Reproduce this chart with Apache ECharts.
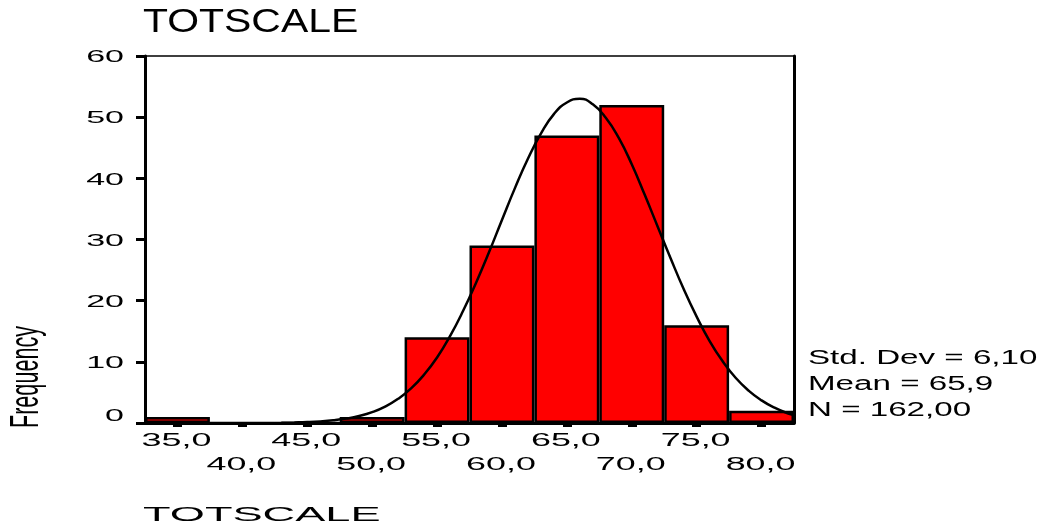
<!DOCTYPE html>
<html><head><meta charset="utf-8">
<script src="https://cdn.jsdelivr.net/npm/echarts@6/dist/echarts.min.js"></script>
<style>html,body{margin:0;padding:0;background:#fff}#c{width:1053px;height:523px}</style>
</head><body><div id="c"></div>
<script>
// ---- data ----
const chartTitle = 'TOTSCALE';
const xTitle = 'TOTSCALE';
const yTitle = 'Frequency';
const binLabels = ['35,0','40,0','45,0','50,0','55,0','60,0','65,0','70,0','75,0','80,0'];
const frequencies = [1, 0, 0, 1, 14, 29, 47, 52, 16, 2];
const yTicks = [0, 10, 20, 30, 40, 50, 60];
const xRange = [32.5, 82.5];
const curveX = [43,44,45,46,47,48,49,50,51,52,53,54,55,56,57,58,59,60,61,62,63,64,65,66,67,68,69,70,71,72,73,74,75,76,77,78,79,80,81,82,82.5];
const curveY = [0.05,0.09,0.15,0.26,0.44,0.72,1.14,1.77,2.68,3.95,5.66,7.9,10.7,14.2,18.3,22.9,27.9,33.2,38.4,43.2,47.3,50.5,52.4,53.0,52.1,49.9,46.6,42.3,37.3,32.1,26.9,21.9,17.4,13.4,10.1,7.4,5.3,3.7,2.5,1.6,1.3];
const statsLines = ['Std. Dev = 6,10', 'Mean = 65,9', 'N = 162,00'];

// ---- chart ----
const FONT = '"Liberation Sans", Arial, sans-serif';
const GRID = {left: 145, top: 56, width: 649, height: 367};
const chart = echarts.init(document.getElementById('c'), null, {renderer: 'canvas'});
const option = {
  animation: false,
  backgroundColor: '#fff',
  grid: Object.assign({show: true, borderColor: '#000', borderWidth: 1.5, backgroundColor: 'transparent'}, GRID),
  xAxis: [
    {
      type: 'category', data: binLabels, boundaryGap: true,
      axisLine: {show: true, lineStyle: {color: '#000', width: 3}},
      axisTick: {show: true, alignWithLabel: true, length: 4, lineStyle: {color: '#000', width: 9}},
      axisLabel: {show: false}, splitLine: {show: false}
    },
    {type: 'value', min: xRange[0], max: xRange[1], show: false}
  ],
  yAxis: [
    {
      type: 'value', min: 0, max: 60, interval: 10,
      axisLine: {show: true, lineStyle: {color: '#000', width: 3}},
      axisTick: {show: true, length: 9, lineStyle: {color: '#000', width: 3}},
      axisLabel: {show: false}, splitLine: {show: false}
    },
    {
      type: 'value', min: 0, max: 60, position: 'right',
      axisLine: {show: true, onZero: false, lineStyle: {color: '#000', width: 3}},
      axisTick: {show: false}, axisLabel: {show: false}, splitLine: {show: false}
    }
  ],
  series: [
    {
      type: 'bar', xAxisIndex: 0, yAxisIndex: 0, data: frequencies,
      barCategoryGap: '0%', z: 2,
      itemStyle: {color: '#ff0000', borderColor: '#000', borderWidth: 2.5}
    },
    {
      type: 'line', xAxisIndex: 1, yAxisIndex: 0, z: 3,
      data: curveX.map((x, i) => [x, curveY[i]]),
      smooth: true, showSymbol: false, symbol: 'none',
      lineStyle: {color: '#000', width: 2.5}
    }
  ]
};
chart.setOption(option);

function txt(text, x, y, size, sx, align, vAlign, rot) {
  return {
    type: 'text', x: x, y: y, scaleX: sx, rotation: rot || 0, silent: true, z: 10,
    style: {text: text, font: size + 'px ' + FONT, fill: '#000', textAlign: align, textVerticalAlign: vAlign}
  };
}
const g = [];
g.push(txt(chartTitle, GRID.left - 2, 23, 33, 1.24, 'left', 'middle'));
g.push(txt(xTitle, GRID.left - 2, 515, 21, 2.15, 'left', 'middle'));
g.push(txt(yTitle, 27, 377, 40, 0.54, 'center', 'middle', Math.PI / 2));
yTicks.forEach(v => {
  const py = chart.convertToPixel({yAxisIndex: 0}, v);
  g.push(txt(String(v), GRID.left - 21, py + 1.5 + (v === 0 ? -8 : 0), 17, 2.0, 'right', 'middle'));
});
binLabels.forEach((l, i) => {
  const px = chart.convertToPixel({xAxisIndex: 0}, l);
  g.push(txt(l, px - 1, i % 2 === 0 ? 441 : 465.5, 17.5, 2.05, 'center', 'middle'));
});
statsLines.forEach((s, i) => {
  g.push(txt(s, 808, 358.5 + i * 26, 19.5, 1.7, 'left', 'middle'));
});
chart.setOption({graphic: g});
</script></body></html>
